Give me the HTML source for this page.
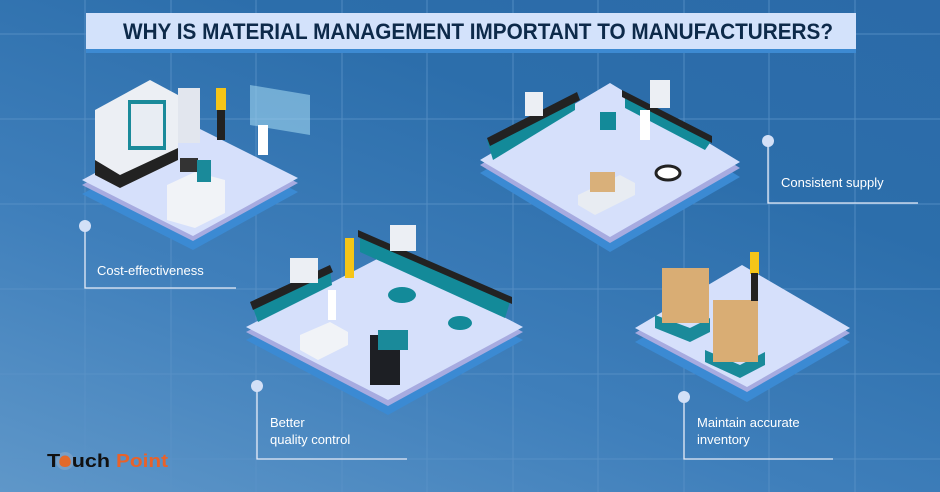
<!DOCTYPE html>
<html><head><meta charset="utf-8"><style>
html,body{margin:0;padding:0}
body{width:940px;height:492px;overflow:hidden;position:relative;font-family:"Liberation Sans",sans-serif;
background:linear-gradient(20deg,#5f97c9 0%,#3f7fbb 35%,#2c6eab 70%,#2b6aa8 100%);}
svg{position:absolute;left:0;top:0}
.lbl{position:absolute;color:#fff;font-size:13px;line-height:17px}
</style></head><body>
<svg width="940" height="492" viewBox="0 0 940 492">
<g stroke="#5b93c8" stroke-width="1" opacity="0.8">
<line x1="0" y1="34" x2="940" y2="34"/><line x1="0" y1="119" x2="940" y2="119"/>
<line x1="0" y1="204" x2="940" y2="204"/><line x1="0" y1="289" x2="940" y2="289"/>
<line x1="0" y1="374" x2="940" y2="374"/><line x1="0" y1="459" x2="940" y2="459"/>
<line x1="85" y1="0" x2="85" y2="492"/><line x1="171" y1="0" x2="171" y2="492"/>
<line x1="256" y1="0" x2="256" y2="492"/><line x1="342" y1="0" x2="342" y2="492"/>
<line x1="427" y1="0" x2="427" y2="492"/><line x1="513" y1="0" x2="513" y2="492"/>
<line x1="598" y1="0" x2="598" y2="492"/><line x1="684" y1="0" x2="684" y2="492"/>
<line x1="769" y1="0" x2="769" y2="492"/><line x1="855" y1="0" x2="855" y2="492"/>
</g>
<!-- title -->
<rect x="86" y="49" width="770" height="4" fill="#3d8ad2"/>
<rect x="86" y="13" width="770" height="36" fill="#d3e2fb"/>
<text x="478" y="39" text-anchor="middle" font-family="Liberation Sans" font-weight="bold" font-size="22" fill="#0d2a4a" textLength="710" lengthAdjust="spacingAndGlyphs">WHY IS MATERIAL MANAGEMENT IMPORTANT TO MANUFACTURERS?</text>

<!-- platform 1 -->
<g>
<polygon points="190,137 82,194 193,250 298,192" fill="#3b8ad3"/>
<polygon points="188,128 82,185 193,241 298,183" fill="#a7abe0"/>
<polygon points="188,123 82,180 193,236 298,178" fill="#d6e0fb"/>
<polygon points="95,110 95,175 120,188 178,160 178,95 150,80" fill="#eceff4"/>
<polygon points="95,160 95,175 120,188 178,160 178,148 120,175" fill="#222"/>
<rect x="128" y="100" width="38" height="50" fill="#1a8a9a"/><rect x="131" y="104" width="32" height="42" fill="#e8edf3"/>
<rect x="178" y="88" width="22" height="55" fill="#e2e6ee"/>
<polygon points="250,85 310,95 310,135 250,125" fill="#9fd3ee" opacity="0.6"/>
<rect x="216" y="88" width="10" height="22" fill="#f5c518"/><rect x="217" y="110" width="8" height="30" fill="#222"/>
<rect x="258" y="125" width="10" height="30" fill="#fff"/>
<polygon points="167,185 167,220 195,228 225,213 225,180 195,172" fill="#f1f3f7"/>
<rect x="180" y="158" width="18" height="14" fill="#333"/>
<rect x="197" y="160" width="14" height="22" fill="#1a8a9a"/>
</g>
<!-- platform 2 -->
<g>
<polygon points="610,98 480,173 610,252 740,177" fill="#3b8ad3"/>
<polygon points="610,89 480,165 610,243 740,168" fill="#a7abe0"/>
<polygon points="610,83 480,160 610,237 740,162" fill="#d6e0fb"/>
<polygon points="487,140 575,95 575,110 493,160" fill="#138a99"/>
<polygon points="487,138 577,92 580,100 490,146" fill="#222"/>
<rect x="525" y="92" width="18" height="24" fill="#eceff4"/>
<polygon points="625,95 712,140 705,150 625,108" fill="#138a99"/>
<polygon points="622,90 712,136 712,143 622,97" fill="#222"/>
<rect x="650" y="80" width="20" height="28" fill="#eceff4"/>
<rect x="600" y="112" width="16" height="18" fill="#138a99"/>
<rect x="640" y="110" width="10" height="30" fill="#fff"/>
<polygon points="578,195 620,175 635,183 635,195 595,215 578,205" fill="#e8ecf2"/>
<rect x="590" y="172" width="25" height="20" fill="#d9b07a"/>
<ellipse cx="668" cy="173" rx="12" ry="7" fill="#fff" stroke="#222" stroke-width="3"/>
</g>
<!-- platform 3 -->
<g>
<polygon points="385,270 246,340 388,415 523,340" fill="#3b8ad3"/>
<polygon points="385,261 246,332 388,406 523,332" fill="#a7abe0"/>
<polygon points="385,255 246,327 388,400 523,327" fill="#d6e0fb"/>
<polygon points="252,305 330,270 332,285 258,322" fill="#138a99"/>
<polygon points="250,302 330,265 333,272 253,310" fill="#222"/>
<rect x="290" y="258" width="28" height="25" fill="#eceff4"/>
<polygon points="360,235 510,302 505,318 360,252" fill="#138a99"/>
<polygon points="358,230 512,297 512,304 358,237" fill="#222"/>
<rect x="390" y="225" width="26" height="26" fill="#eceff4"/>
<ellipse cx="402" cy="295" rx="14" ry="8" fill="#138a99"/>
<ellipse cx="460" cy="323" rx="12" ry="7" fill="#138a99"/>
<rect x="345" y="238" width="9" height="40" fill="#f5c518"/>
<rect x="370" y="335" width="30" height="50" fill="#1d1f24"/>
<rect x="378" y="330" width="30" height="20" fill="#1a8a9a"/>
<polygon points="300,335 330,322 348,332 348,345 318,360 300,350" fill="#f1f3f7"/>
<rect x="328" y="290" width="8" height="30" fill="#fff"/>
</g>
<!-- platform 4 -->
<g>
<polygon points="742,280 635,342 747,402 850,342" fill="#3b8ad3"/>
<polygon points="742,270 635,333 747,392 850,333" fill="#a7abe0"/>
<polygon points="742,265 635,328 747,387 850,328" fill="#d6e0fb"/>
<polygon points="655,315 690,328 710,318 710,332 690,342 655,328" fill="#1a8a9a"/>
<rect x="662" y="268" width="47" height="55" fill="#d9ad74"/>
<polygon points="705,350 740,365 765,352 765,365 740,378 705,362" fill="#1a8a9a"/>
<rect x="713" y="300" width="45" height="62" fill="#d9ad74"/>
<rect x="750" y="252" width="9" height="22" fill="#f5c518"/><rect x="751" y="273" width="7" height="28" fill="#222"/>
</g>
<!-- connectors -->
<g stroke="#e6ecf8" stroke-width="1.3" fill="none">
<polyline points="85,226 85,288 236,288"/>
<polyline points="768,141 768,203 918,203"/>
<polyline points="257,386 257,459 407,459"/>
<polyline points="684,397 684,459 833,459"/>
</g>
<g fill="#d3e0f7">
<circle cx="85" cy="226" r="6"/><circle cx="768" cy="141" r="6"/>
<circle cx="257" cy="386" r="6"/><circle cx="684" cy="397" r="6"/>
</g>
<!-- logo -->
<circle cx="65" cy="461" r="9" fill="#8aa9c8" opacity="0.6"/>
<circle cx="65" cy="461" r="5.5" fill="#e46a2a"/>
<text x="47" y="467" font-family="Liberation Sans" font-weight="bold" font-size="18" fill="#111" textLength="63" lengthAdjust="spacingAndGlyphs">T<tspan fill="#e46a2a">o</tspan>uch</text>
<text x="116" y="467" font-family="Liberation Sans" font-weight="bold" font-size="18" fill="#e8622a" textLength="52" lengthAdjust="spacingAndGlyphs">Point</text>
</svg>
<div class="lbl" style="left:97px;top:262px">Cost-effectiveness</div>
<div class="lbl" style="left:781px;top:174px">Consistent supply</div>
<div class="lbl" style="left:270px;top:414px">Better<br>quality control</div>
<div class="lbl" style="left:697px;top:414px">Maintain accurate<br>inventory</div>
</body></html>
